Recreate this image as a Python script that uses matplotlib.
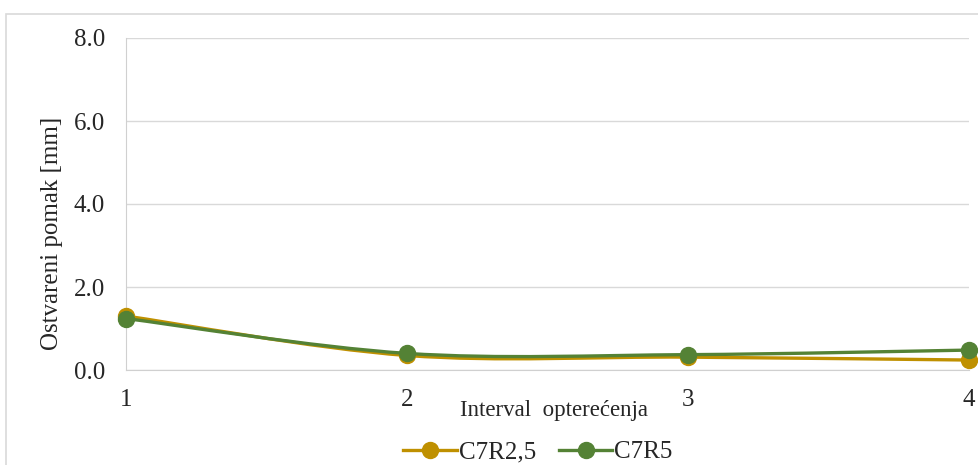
import numpy as np
import matplotlib.pyplot as plt
from matplotlib.path import Path
from matplotlib.patches import PathPatch, Rectangle
from matplotlib.lines import Line2D

plt.rcParams['font.family'] = ['Liberation Serif', 'DejaVu Serif']

intervals = [1, 2, 3, 4]
c7r25 = [1.30, 0.35, 0.31, 0.24]
c7r5 = [1.24, 0.40, 0.37, 0.48]
series_names = ['C7R2,5', 'C7R5']
colors = ['#BF9000', '#548235']
y_ticks = [0.0, 2.0, 4.0, 6.0, 8.0]


def smooth_path(x, y):
    # Catmull-Rom -> cubic bezier, like Excel "smoothed line"
    x = np.asarray(x, float)
    y = np.asarray(y, float)
    pts = np.column_stack([x, y])
    verts = [pts[0]]
    codes = [Path.MOVETO]
    n = len(pts)
    for i in range(n - 1):
        p0 = pts[i - 1] if i > 0 else pts[i]
        p1 = pts[i]
        p2 = pts[i + 1]
        p3 = pts[i + 2] if i + 2 < n else pts[i + 1]
        c1 = p1 + (p2 - p0) / 6.0
        c2 = p2 - (p3 - p1) / 6.0
        verts += [c1, c2, p2]
        codes += [Path.CURVE4] * 3
    return Path(verts, codes)


fs = 18
txt = '#262626'
fig = plt.figure(figsize=(9.79, 4.65), dpi=100)
fig.patches.append(Rectangle((6 / 979, -0.1), 1.1, (465 - 14) / 465 + 0.1,
                             transform=fig.transFigure, fill=False,
                             edgecolor='#d9d9d9', lw=1.2))
ax = fig.add_axes([126 / 979, (465 - 370) / 465, (969 - 126) / 979, (370 - 38) / 465])

for yy, c in zip([c7r25, c7r5], colors):
    ax.add_patch(PathPatch(smooth_path(intervals, yy), fill=False, edgecolor=c,
                           lw=2.4, clip_on=False, zorder=3))
    ax.plot(intervals, yy, 'o', color=c, markersize=11.5, clip_on=False, zorder=4)

ax.set_xlim(1, 4)
ax.set_ylim(0, 8)
ax.set_yticks(y_ticks)
ax.set_yticklabels(['%.1f' % v for v in y_ticks])
ax.set_xticks(intervals)
ax.tick_params(axis='both', length=0, labelsize=fs, colors=txt)
ax.tick_params(axis='x', pad=14)
ax.tick_params(axis='y', pad=15)
ax.grid(axis='y', color='#d9d9d9', lw=1)
ax.set_axisbelow(True)
for s in ['top', 'right']:
    ax.spines[s].set_visible(False)
ax.spines['left'].set_color('#d0d0d0')
ax.spines['bottom'].set_color('#d0d0d0')

fig.text(52 / 979, 1 - 233 / 465, 'Ostvareni pomak [mm]', rotation=90, ha='center',
         va='center', fontsize=fs, color=txt)
fig.text(554 / 979, 1 - 410 / 465, 'Interval  opterećenja', ha='center', va='center',
         fontsize=16.5, color=txt)

handles = [Line2D([0], [0], color=c, lw=2.4, marker='o', markersize=11.5) for c in colors]
fig.legend(handles, series_names, loc='center', bbox_to_anchor=(538 / 979, 1 - 452 / 465),
           ncol=2, frameon=False, fontsize=fs, handlelength=2.15, handletextpad=0.08,
           columnspacing=0.9, labelcolor=txt, borderaxespad=0, borderpad=0)

fig.savefig('out.png', dpi=100)
